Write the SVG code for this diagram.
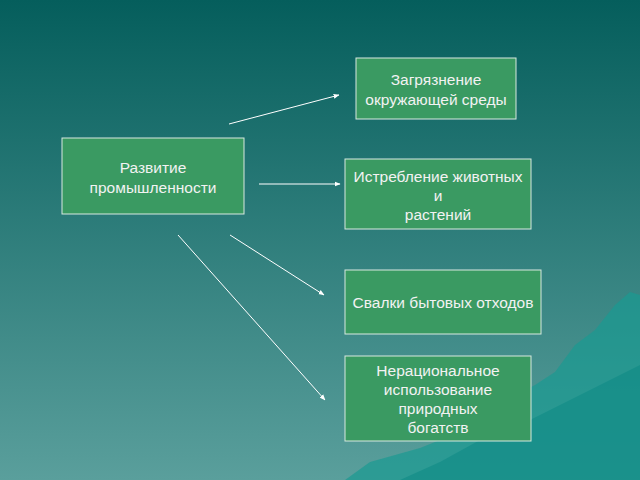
<svg xmlns="http://www.w3.org/2000/svg" width="640" height="480" viewBox="0 0 640 480">
<defs>
<linearGradient id="bg" x1="0" y1="0" x2="0" y2="1">
<stop offset="0" stop-color="#055e5c"/>
<stop offset="1" stop-color="#5a9f9c"/>
</linearGradient>
<marker id="ah" viewBox="0 0 10 10" refX="9" refY="5" markerWidth="6" markerHeight="6" orient="auto"><path d="M0,1 L10,5 L0,9 z" fill="#ffffff"/></marker>
<style>
.box{fill:#3a9a62;stroke:#d8e8e0;stroke-width:1}
.t{font-family:"Liberation Sans",Arial,sans-serif;font-size:15.5px;fill:#f2f2f2;text-anchor:middle}
.c{stroke:#ffffff;stroke-width:1;fill:none;marker-end:url(#ah)}
</style>
</defs>
<rect width="640" height="480" fill="url(#bg)"/>
<path d="M345,480 L370,462 L395,455 L420,448 L445,438 L470,412 L490,410 L510,398 L535,385 L555,372 L575,345 L595,330 L615,305 L630,292 L640,295 L640,480 Z" fill="#1a9a92" opacity="0.7"/>
<path d="M400,480 L440,462 L480,440 L520,425 L560,405 L600,385 L640,365 L640,480 Z" fill="#0f8a86" opacity="0.6"/>
<g id="connectors">
<line class="c" x1="229" y1="124" x2="339" y2="95"/>
<line class="c" x1="259" y1="184" x2="340" y2="184"/>
<line class="c" x1="230" y1="235" x2="324" y2="295"/>
<line class="c" x1="178" y1="235" x2="325" y2="400"/>
</g>
<g id="n0"><rect class="box" x="62" y="138" width="182" height="76"/>
<text class="t" x="153" y="173">Развитие</text><text class="t" x="153" y="193">промышленности</text></g>
<g id="n1"><rect class="box" x="356" y="58" width="160" height="61"/>
<text class="t" x="436" y="85">Загрязнение</text><text class="t" x="436" y="105">окружающей среды</text></g>
<g id="n2"><rect class="box" x="345" y="159" width="186" height="70"/>
<text class="t" x="438" y="182">Истребление животных</text><text class="t" x="438" y="201">и</text><text class="t" x="438" y="220">растений</text></g>
<g id="n3"><rect class="box" x="345" y="270" width="196" height="64"/>
<text class="t" x="443" y="308">Свалки бытовых отходов</text></g>
<g id="n4"><rect class="box" x="345" y="356" width="186" height="85"/>
<text class="t" x="438" y="376">Нерациональное</text><text class="t" x="438" y="395">использование</text><text class="t" x="438" y="414">природных</text><text class="t" x="438" y="433">богатств</text></g>
</svg>
